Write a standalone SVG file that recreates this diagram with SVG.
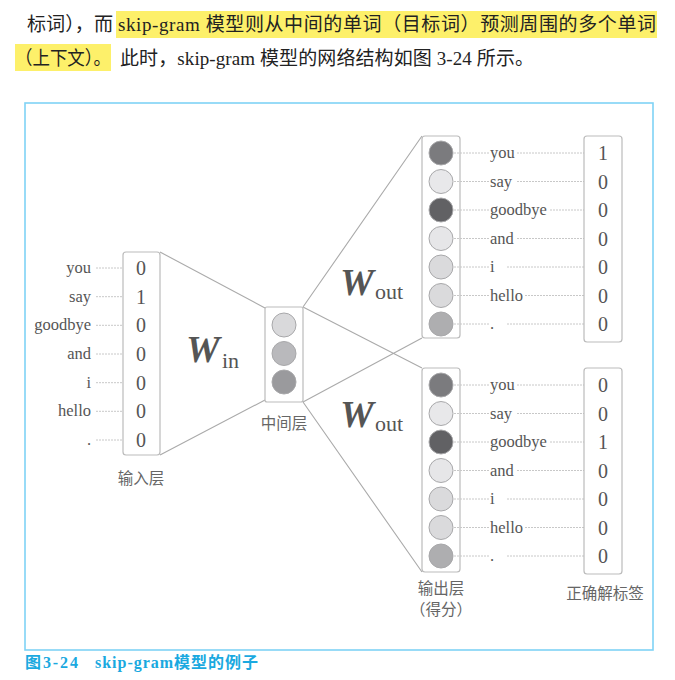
<svg xmlns="http://www.w3.org/2000/svg" width="675" height="680" viewBox="0 0 675 680">
<style>
.body{font-family:"Liberation Serif","Noto Sans CJK SC",serif;font-size:19px;fill:#222}
.lbl{font-family:"Liberation Serif",serif;font-size:16.5px;fill:#555}
.num{font-family:"Liberation Serif",serif;font-size:20px;fill:#555;text-anchor:middle}
.cn{font-family:"Noto Sans CJK SC",sans-serif;font-size:15.5px;fill:#666;text-anchor:middle}
.W{font-family:"Liberation Serif",serif;font-size:38px;font-weight:bold;font-style:italic;fill:#555}
.sub{font-family:"Liberation Serif",serif;font-size:22px;fill:#555}
.box{fill:#fff;stroke:#bbb;stroke-width:1.2}
.dash{stroke:#c8c8c8;stroke-width:1;stroke-dasharray:2 1;fill:none}
.edge{stroke:#aaa;stroke-width:1.1;fill:none}
.c{stroke:#a8a8aa;stroke-width:1}
.cap{font-family:"Liberation Serif","Noto Sans CJK SC",serif;font-size:16px;font-weight:bold;fill:#1aa9e0}
</style>
<defs>
<g id="outcircles">
<circle class="c" cx="441" cy="0" r="12" fill="#7b7b7e"/>
<circle class="c" cx="441" cy="28.5" r="12" fill="#e8e8ea"/>
<circle class="c" cx="441" cy="57" r="12" fill="#616164"/>
<circle class="c" cx="441" cy="85.5" r="12" fill="#e6e6e8"/>
<circle class="c" cx="441" cy="114" r="12" fill="#dadadc"/>
<circle class="c" cx="441" cy="142.5" r="12" fill="#dadadc"/>
<circle class="c" cx="441" cy="171" r="12" fill="#aeaeb0"/>
</g>
<g id="outlines">
<path class="dash" d="M454 0H489M517 0H590M454 28.5H489M517 28.5H590M454 57H489M550 57H590M454 85.5H489M517 85.5H590M454 114H489M507 114H590M454 142.5H489M525 142.5H590M454 171H489M507 171H590"/>
</g>
<g id="outwords">
<text class="lbl" x="490" y="5">you</text>
<text class="lbl" x="490" y="33.5">say</text>
<text class="lbl" x="490" y="62">goodbye</text>
<text class="lbl" x="490" y="90.5">and</text>
<text class="lbl" x="490" y="119">i</text>
<text class="lbl" x="490" y="147.5">hello</text>
<text class="lbl" x="490" y="176">.</text>
</g>
</defs>

<!-- top paragraph -->
<rect x="116" y="11" width="541" height="27" fill="#fdf06a"/>
<rect x="15" y="44" width="96" height="27" fill="#fdf06a"/>
<text class="body" x="27" y="31" textLength="86" lengthAdjust="spacingAndGlyphs">标词），而</text>
<text class="body" x="118" y="31" textLength="538" lengthAdjust="spacing">skip-gram 模型则从中间的单词（目标词）预测周围的多个单词</text>
<text class="body" x="15" y="65" textLength="96" lengthAdjust="spacingAndGlyphs">（上下文）。</text>
<text class="body" x="120" y="65" textLength="414" lengthAdjust="spacing">此时，skip-gram 模型的网络结构如图 3-24 所示。</text>

<!-- frame -->
<rect x="25" y="103" width="628" height="547" fill="none" stroke="#7fd3f5" stroke-width="1.6"/>

<!-- connectors -->
<g id="connectors">
<path class="edge" d="M160 252L265 308M160 455L265 400"/>
<path class="edge" d="M303 307L422 136M303 307L422 368M303 402L422 338M303 402L422 572"/>
<path class="dash" d="M96 268H128M96 296.7H128M96 325.3H128M96 354H128M96 382.7H128M96 411.3H128M96 440H128"/>
</g>

<!-- input layer -->
<g id="input">
<rect class="box" x="123" y="252" width="37" height="203" rx="3"/>
<g class="lbl" text-anchor="end">
<text x="91" y="273">you</text>
<text x="91" y="301.7">say</text>
<text x="91" y="330.3">goodbye</text>
<text x="91" y="359">and</text>
<text x="91" y="387.7">i</text>
<text x="91" y="416.3">hello</text>
<text x="91" y="445">.</text>
</g>
<text class="num" x="141" y="275">0</text>
<text class="num" x="141" y="303.7">1</text>
<text class="num" x="141" y="332.3">0</text>
<text class="num" x="141" y="361">0</text>
<text class="num" x="141" y="389.7">0</text>
<text class="num" x="141" y="418.3">0</text>
<text class="num" x="141" y="447">0</text>
<text class="cn" x="141" y="484">输入层</text>
</g>

<!-- W_in -->
<g id="win">
<text class="W" x="186" y="362">W</text>
<text class="sub" x="222" y="368">in</text>
</g>

<!-- hidden layer -->
<g id="hidden">
<rect class="box" x="265" y="307" width="38" height="95" rx="2"/>
<circle class="c" cx="284" cy="325" r="12" fill="#d9d9db"/>
<circle class="c" cx="284" cy="353.5" r="12" fill="#b9b9bc"/>
<circle class="c" cx="284" cy="382" r="12" fill="#9a9a9d"/>
<text class="cn" x="284" y="429">中间层</text>
</g>

<!-- W_out labels -->
<g id="wout1">
<text class="W" x="340" y="295">W</text>
<text class="sub" x="375" y="299">out</text>
</g>
<g id="wout2">
<text class="W" x="340" y="427">W</text>
<text class="sub" x="375" y="431">out</text>
</g>

<!-- output layer top -->
<g id="output1">
<rect class="box" x="422" y="136" width="38" height="202" rx="3"/>
<use href="#outlines" y="153"/>
<use href="#outcircles" y="153"/>
<use href="#outwords" y="153"/>
</g>
<g id="label1">
<rect class="box" x="584" y="136" width="38" height="206" rx="3"/>
<text class="num" x="603" y="160">1</text>
<text class="num" x="603" y="188.5">0</text>
<text class="num" x="603" y="217">0</text>
<text class="num" x="603" y="245.5">0</text>
<text class="num" x="603" y="274">0</text>
<text class="num" x="603" y="302.5">0</text>
<text class="num" x="603" y="331">0</text>
</g>

<!-- output layer bottom -->
<g id="output2">
<rect class="box" x="422" y="368" width="38" height="204" rx="3"/>
<use href="#outlines" y="385"/>
<use href="#outcircles" y="385"/>
<use href="#outwords" y="385"/>
<text class="cn" x="441" y="594" font-size="15">输出层</text>
<text class="cn" x="441" y="615" font-size="15">（得分）</text>
</g>
<g id="label2">
<rect class="box" x="584" y="368" width="38" height="206" rx="3"/>
<text class="num" x="603" y="392">0</text>
<text class="num" x="603" y="420.5">0</text>
<text class="num" x="603" y="449">1</text>
<text class="num" x="603" y="477.5">0</text>
<text class="num" x="603" y="506">0</text>
<text class="num" x="603" y="534.5">0</text>
<text class="num" x="603" y="563">0</text>
<text class="cn" x="605" y="599">正确解标签</text>
</g>

<!-- caption -->
<text class="cap" x="25" y="668" textLength="53" lengthAdjust="spacing">图3-24</text>
<text class="cap" x="95" y="668" textLength="163" lengthAdjust="spacing">skip-gram模型的例子</text>
</svg>
